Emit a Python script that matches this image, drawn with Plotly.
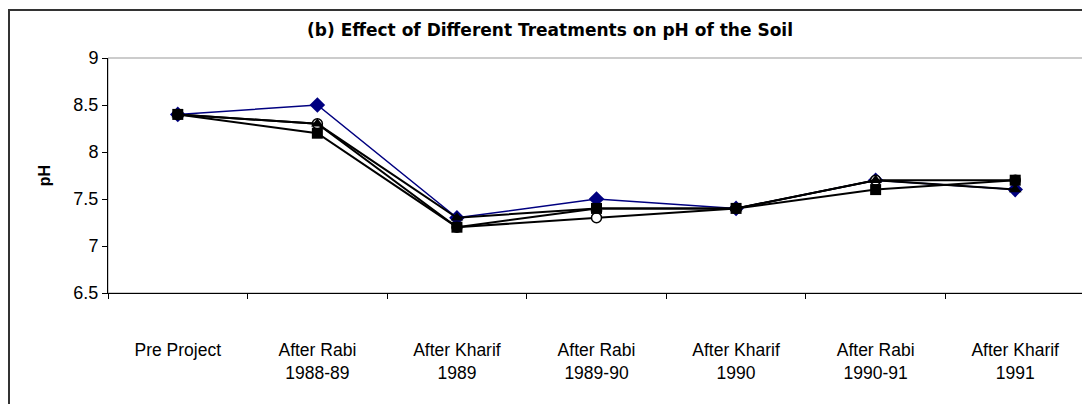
import plotly.graph_objects as go

categories = ["Pre Project", "After Rabi<br>1988-89", "After Kharif<br>1989", "After Rabi<br>1989-90",
              "After Kharif<br>1990", "After Rabi<br>1990-91", "After Kharif<br>1991"]
series_diamond = [8.4, 8.5, 7.3, 7.5, 7.4, 7.7, 7.6]
series_circle = [8.4, 8.3, 7.2, 7.3, 7.4, 7.7, 7.7]
series_triangle = [8.4, 8.3, 7.3, 7.4, 7.4, 7.7, 7.6]
series_square = [8.4, 8.2, 7.2, 7.4, 7.4, 7.6, 7.7]

W, H = 1082, 396
L, R, T, B = 100, 5, 50, 111
pw, ph = W - L - R, H - T - B

fig = go.Figure()
fig.add_trace(go.Scatter(x=categories, y=series_diamond, mode="lines+markers",
                         line=dict(color="#000080", width=1.5),
                         marker=dict(symbol="diamond", size=12, color="#000080")))
fig.add_trace(go.Scatter(x=categories, y=series_circle, mode="lines+markers",
                         line=dict(color="black", width=2),
                         marker=dict(symbol="circle", size=10, color="white",
                                     line=dict(color="black", width=1.5))))
fig.add_trace(go.Scatter(x=categories, y=series_triangle, mode="lines+markers",
                         line=dict(color="black", width=2),
                         marker=dict(symbol="triangle-up", size=11, color="black")))
fig.add_trace(go.Scatter(x=categories, y=series_square, mode="lines+markers",
                         line=dict(color="black", width=2),
                         marker=dict(symbol="square", size=11, color="black")))

fig.update_layout(
    width=W, height=H,
    margin=dict(l=L, r=R, t=T, b=B, autoexpand=False),
    paper_bgcolor="white", plot_bgcolor="white",
    showlegend=False,
    font=dict(family="Liberation Sans, Arial, sans-serif", size=17, color="black"),
    title=dict(text="<b>(b) Effect of Different Treatments on pH of the Soil</b>",
               x=542 / W, xanchor="center", xref="container", yref="container",
               y=(H - 22) / H, yanchor="middle",
               font=dict(family="DejaVu Sans, sans-serif", size=17, color="black")),
    shapes=[
        dict(type="rect", xref="paper", yref="paper", x0=0, x1=1, y0=0, y1=1,
             line=dict(color="#999999", width=1), layer="below"),
        dict(type="rect", xref="paper", yref="paper",
             x0=(1 - L) / pw, x1=1.05, y0=-0.6, y1=(T + ph - 2) / ph,
             line=dict(color="#333333", width=2), fillcolor="rgba(0,0,0,0)"),
    ],
)

fig.update_xaxes(type="category", tickson="boundaries", ticks="outside", ticklen=5,
                 tickcolor="black", showline=True, linecolor="black", linewidth=1,
                 showgrid=False, tickfont=dict(size=17.5), range=[-0.5, 6.5],
                 ticklabelstandoff=41)
fig.update_yaxes(range=[6.5, 9], dtick=0.5, ticks="outside", ticklen=5, tickcolor="black",
                 showline=True, linecolor="black", linewidth=1, showgrid=False, zeroline=False,
                 tickfont=dict(size=18),
                 title=dict(text="<b>pH</b>", font=dict(size=16), standoff=18))

fig.write_html("out.html")
